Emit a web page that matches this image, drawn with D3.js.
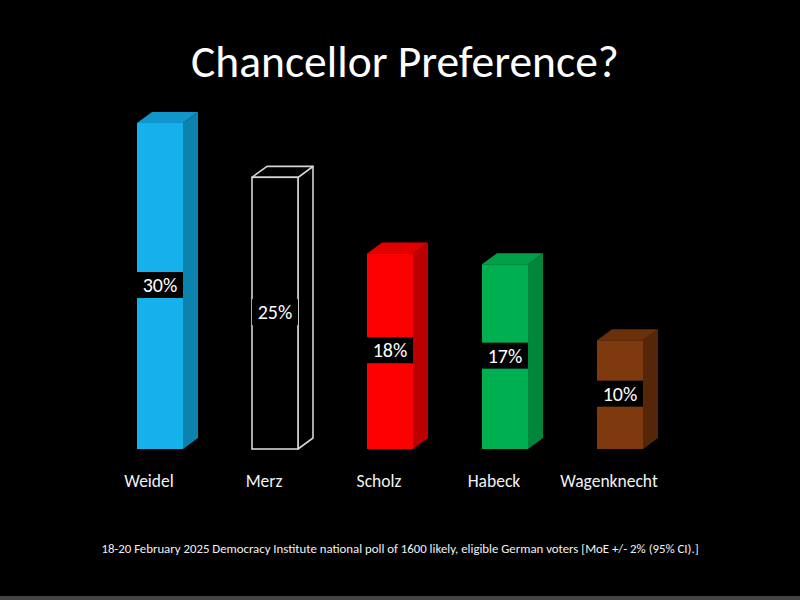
<!DOCTYPE html>
<html>
<head>
<meta charset="utf-8">
<script src="https://cdn.jsdelivr.net/npm/d3@7"></script>
<style>
  html, body { margin: 0; padding: 0; background: #000; }
  svg { display: block; }
</style>
</head>
<body>
<svg id="chart" width="800" height="600"></svg>
<script>
const categories = ["Weidel", "Merz", "Scholz", "Habeck", "Wagenknecht"];
const values = [30, 25, 18, 17, 10];
const valueLabels = ["30%", "25%", "18%", "17%", "10%"];
const frontColors = ["#14b1ec", "#000000", "#ff0000", "#00b050", "#7e3a0e"];
const sideColors  = ["#0c82ae", "#000000", "#bb0000", "#00873c", "#552708"];
const topColors   = ["#1196cc", "#000000", "#e00000", "#00a046", "#6a300a"];
const outlineColors = [null, "#d4d4d4", null, null, null];
const titleText = "Chancellor Preference?";
const footnoteText = "18-20 February 2025 Democracy Institute national poll of 1600 likely, eligible German voters [MoE +/- 2% (95% CI).]";

const svg = d3.select("#chart");
const font = "Carlito, Lato, 'Open Sans', sans-serif";

svg.append("rect").attr("width", 800).attr("height", 600).attr("fill", "#000");
svg.append("rect").attr("x", 0).attr("y", 596).attr("width", 800).attr("height", 4).attr("fill", "#464646");

const x = d3.scaleBand().domain(categories).range([102.5, 677.5]).paddingInner(0.6).paddingOuter(0.3);
const y = d3.scaleLinear().domain([0, 30]).range([449, 123]);
const dx = 15, dy = -11;

const data = categories.map((c, i) => ({
  c, v: values[i], label: valueLabels[i],
  front: frontColors[i], side: sideColors[i], top: topColors[i], outline: outlineColors[i]
}));

const g = svg.append("g");
const bars = g.selectAll("g.bar").data(data).join("g").attr("class", "bar");

bars.each(function(d) {
  const sel = d3.select(this);
  const x0 = x(d.c), w = x.bandwidth();
  const y0 = y(d.v), yb = y(0);
  const stroke = d.outline || "none";
  const sw = d.outline ? 1.6 : 0;
  sel.append("path")
    .attr("d", `M${x0 + w},${y0} L${x0 + w + dx},${y0 + dy} L${x0 + w + dx},${yb + dy} L${x0 + w},${yb} Z`)
    .attr("fill", d.side).attr("stroke", stroke).attr("stroke-width", sw).attr("stroke-linejoin", "round");
  sel.append("path")
    .attr("d", `M${x0},${y0} L${x0 + dx},${y0 + dy} L${x0 + w + dx},${y0 + dy} L${x0 + w},${y0} Z`)
    .attr("fill", d.top).attr("stroke", stroke).attr("stroke-width", sw).attr("stroke-linejoin", "round");
  sel.append("rect")
    .attr("x", x0).attr("y", y0).attr("width", w).attr("height", yb - y0)
    .attr("fill", d.front).attr("stroke", stroke).attr("stroke-width", sw);
  const cy = (y0 + yb) / 2 - 1;
  sel.append("rect")
    .attr("x", x0).attr("y", cy - 13).attr("width", w).attr("height", 26)
    .attr("fill", "#000");
  sel.append("text")
    .attr("x", x0 + w / 2).attr("y", cy).attr("dy", "0.36em")
    .attr("text-anchor", "middle")
    .attr("font-family", font).attr("font-size", 20)
    .attr("fill", "#ffffff")
    .text(d.label);
});

g.selectAll("text.cat").data(data).join("text")
  .attr("class", "cat")
  .attr("x", d => x(d.c) + x.bandwidth() / 2 - 11)
  .attr("y", 487)
  .attr("text-anchor", "middle")
  .attr("font-family", font).attr("font-size", 17.5)
  .attr("fill", "#f2f2f2")
  .text(d => d.c);

svg.append("text")
  .attr("x", 405).attr("y", 77)
  .attr("text-anchor", "middle")
  .attr("font-family", font).attr("font-size", 45.5)
  .attr("fill", "#ffffff")
  .text(titleText);

svg.append("text")
  .attr("x", 400).attr("y", 553)
  .attr("text-anchor", "middle")
  .attr("font-family", font).attr("font-size", 12.8)
  .attr("fill", "#f2f2f2")
  .text(footnoteText);
</script>
</body>
</html>
